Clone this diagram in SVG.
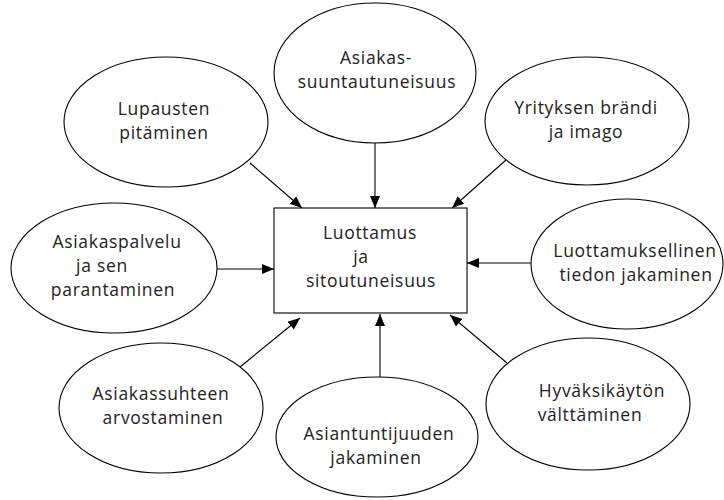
<svg xmlns="http://www.w3.org/2000/svg" width="724" height="500" viewBox="0 0 724 500">
<style>
.n ellipse, .n rect { fill: #ffffff; stroke: #000000; stroke-width: 1.1; }
.n text { font-family: "Open Sans", "Noto Sans", "DejaVu Sans", sans-serif; font-size: 17.5px; letter-spacing: 0.7px; fill: #222222; text-anchor: middle; }
.c line { stroke: #000000; stroke-width: 1.1; marker-end: url(#ah); }
</style>
<defs>
<marker id="ah" viewBox="0 0 12 10" refX="12" refY="5" markerWidth="12" markerHeight="10" markerUnits="userSpaceOnUse" orient="auto">
<path d="M0,0 L12,5 L0,10 z" fill="#000000"/>
</marker>
</defs>
<rect width="724" height="500" fill="#ffffff"/>
<g id="connectors" class="c">
<line x1="250" y1="163" x2="302" y2="208"/>
<line x1="375" y1="143" x2="375" y2="208"/>
<line x1="506" y1="160" x2="452" y2="208"/>
<line x1="532" y1="263" x2="467" y2="263"/>
<line x1="217" y1="269" x2="274" y2="269"/>
<line x1="240" y1="367" x2="300" y2="318"/>
<line x1="380" y1="377" x2="380" y2="314"/>
<line x1="507" y1="363" x2="450" y2="315"/>
</g>
<g id="center" class="n">
<rect x="274" y="208" width="193" height="105"/>
<text x="370" y="239">Luottamus</text>
<text x="361" y="263">ja</text>
<text x="371" y="287">sitoutuneisuus</text>
</g>
<g id="lupausten" class="n">
<ellipse cx="166" cy="122" rx="102" ry="65"/>
<text x="164" y="115">Lupausten</text>
<text x="164" y="139">pitäminen</text>
</g>
<g id="asiakassuuntautuneisuus" class="n">
<ellipse cx="375" cy="73" rx="101" ry="70"/>
<text x="376" y="64">Asiakas-</text>
<text x="377" y="88">suuntautuneisuus</text>
</g>
<g id="yrityksen" class="n">
<ellipse cx="587" cy="121" rx="102" ry="64"/>
<text x="586" y="114">Yrityksen brändi</text>
<text x="586" y="138">ja imago</text>
</g>
<g id="luottamuksellinen" class="n">
<ellipse cx="627" cy="264" rx="96" ry="65"/>
<text x="635" y="256.5">Luottamuksellinen</text>
<text x="636" y="280.5">tiedon jakaminen</text>
</g>
<g id="asiakaspalvelu" class="n">
<ellipse cx="114" cy="268" rx="103" ry="65"/>
<text x="117" y="248">Asiakaspalvelu</text>
<text x="102" y="272">ja sen</text>
<text x="113" y="296">parantaminen</text>
</g>
<g id="asiakassuhteen" class="n">
<ellipse cx="161" cy="408" rx="102" ry="65"/>
<text x="161" y="400">Asiakassuhteen</text>
<text x="163" y="424">arvostaminen</text>
</g>
<g id="asiantuntijuuden" class="n">
<ellipse cx="377" cy="437" rx="101" ry="60"/>
<text x="379" y="440">Asiantuntijuuden</text>
<text x="376" y="464">jakaminen</text>
</g>
<g id="hyvaksikayton" class="n">
<ellipse cx="588" cy="404" rx="102" ry="66"/>
<text x="602" y="396.5">Hyväksikäytön</text>
<text x="590" y="420.5">välttäminen</text>
</g>
</svg>
